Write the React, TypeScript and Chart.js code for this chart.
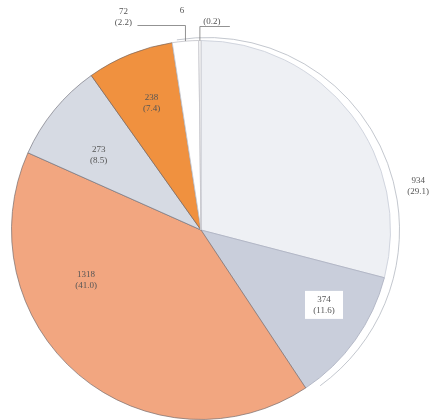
import React, { useEffect, useRef } from "react";
import { Chart, registerables } from "chart.js";

Chart.register(...registerables);

// ---- data ----
const categories = ["A", "B", "C", "D", "E", "F", "G"];
const values = [934, 374, 1318, 273, 238, 72, 6];
const sliceColors = ["#eef0f4", "#c9cedb", "#f2a680", "#d6dae3", "#f0913f", "#ffffff", "#ffffff"];
const sliceBorders = [
  "rgba(205,210,220,0.9)",
  "rgba(175,180,195,0.9)",
  "rgba(120,110,110,0.7)",
  "rgba(120,120,130,0.7)",
  "rgba(120,100,90,0.7)",
  "rgba(200,200,205,0.9)",
  "rgba(200,200,205,0.9)",
];

// label placement (fraction along slice angle, fraction of radius)
const labelPlace = [
  { f: 0.75, r: 1.17, box: false },
  { f: 0.4, r: 0.76, box: true },
  { f: 0.68, r: 0.66, box: false },
  { f: 0.4, r: 0.67, box: false },
  { f: 0.53, r: 0.72, box: false },
  null,
  null,
];

const total = values.reduce((a, b) => a + b, 0);
const pct = (v: number) => ((v / total) * 100).toFixed(1);

const labelPlugin = {
  id: "sliceLabels",
  afterDatasetsDraw(chart: any) {
    const ctx = chart.ctx as CanvasRenderingContext2D;
    const meta = chart.getDatasetMeta(0);
    ctx.save();
    ctx.font = "9px 'Liberation Serif', serif";
    ctx.fillStyle = "#555";
    ctx.textAlign = "center";
    ctx.textBaseline = "middle";
    const first = meta.data[0] as any;
    const cx = first.x, cy = first.y, R = first.outerRadius;
    // faint outer ring
    ctx.strokeStyle = "rgba(170,175,185,0.7)";
    ctx.lineWidth = 1;
    ctx.beginPath();
    ctx.arc(cx + 6, cy, R + 3, -Math.PI * 0.55, Math.PI * 0.3);
    ctx.stroke();

    meta.data.forEach((arc: any, i: number) => {
      const p = labelPlace[i];
      const v = values[i];
      const l1 = String(v);
      const l2 = "(" + pct(v) + ")";
      if (p) {
        const a = arc.startAngle + p.f * (arc.endAngle - arc.startAngle);
        const x = cx + Math.cos(a) * p.r * R;
        const y = cy + Math.sin(a) * p.r * R;
        if (p.box) {
          ctx.fillStyle = "#ffffff";
          ctx.fillRect(x - 19, y - 14, 38, 28);
          ctx.fillStyle = "#555";
        }
        ctx.fillText(l1, x, y - 5);
        ctx.fillText(l2, x, y + 6);
      } else {
        const a = (arc.startAngle + arc.endAngle) / 2;
        const ex = cx + Math.cos(a) * R;
        const ey = cy + Math.sin(a) * R;
        ctx.strokeStyle = "#777";
        ctx.lineWidth = 0.8;
        ctx.beginPath();
        if (i === 5) {
          ctx.moveTo(ex, ey);
          ctx.lineTo(ex, cy - R - 15);
          ctx.lineTo(ex - 48, cy - R - 15);
          ctx.stroke();
          ctx.fillText(l1, ex - 62, cy - R - 29);
          ctx.fillText(l2, ex - 62, cy - R - 18);
        } else {
          ctx.moveTo(ex, ey);
          ctx.lineTo(ex, cy - R - 14);
          ctx.lineTo(ex + 30, cy - R - 14);
          ctx.stroke();
          ctx.fillText(l1, ex - 18, cy - R - 30);
          ctx.fillText(l2, ex + 12, cy - R - 19);
        }
      }
    });
    ctx.restore();
  },
};

export default function App() {
  const ref = useRef<HTMLCanvasElement | null>(null);
  useEffect(() => {
    if (!ref.current) return;
    const chart = new Chart(ref.current, {
      type: "pie",
      data: {
        labels: categories,
        datasets: [
          {
            data: values,
            backgroundColor: sliceColors,
            borderColor: sliceBorders,
            borderWidth: 1,
          },
        ],
      },
      options: {
        animation: false,
        responsive: false,
        maintainAspectRatio: false,
        layout: { padding: { left: 11, right: 54, top: 40, bottom: 0 } },
        plugins: {
          legend: { display: false },
          tooltip: { enabled: false },
        },
      },
      plugins: [labelPlugin],
    });
    return () => chart.destroy();
  }, []);
  return (
    <div style={{ position: "absolute", left: 0, top: 0, width: 445, height: 420, background: "#fff" }}>
      <canvas ref={ref} width={445} height={420} style={{ width: 445, height: 420 }} />
    </div>
  );
}
